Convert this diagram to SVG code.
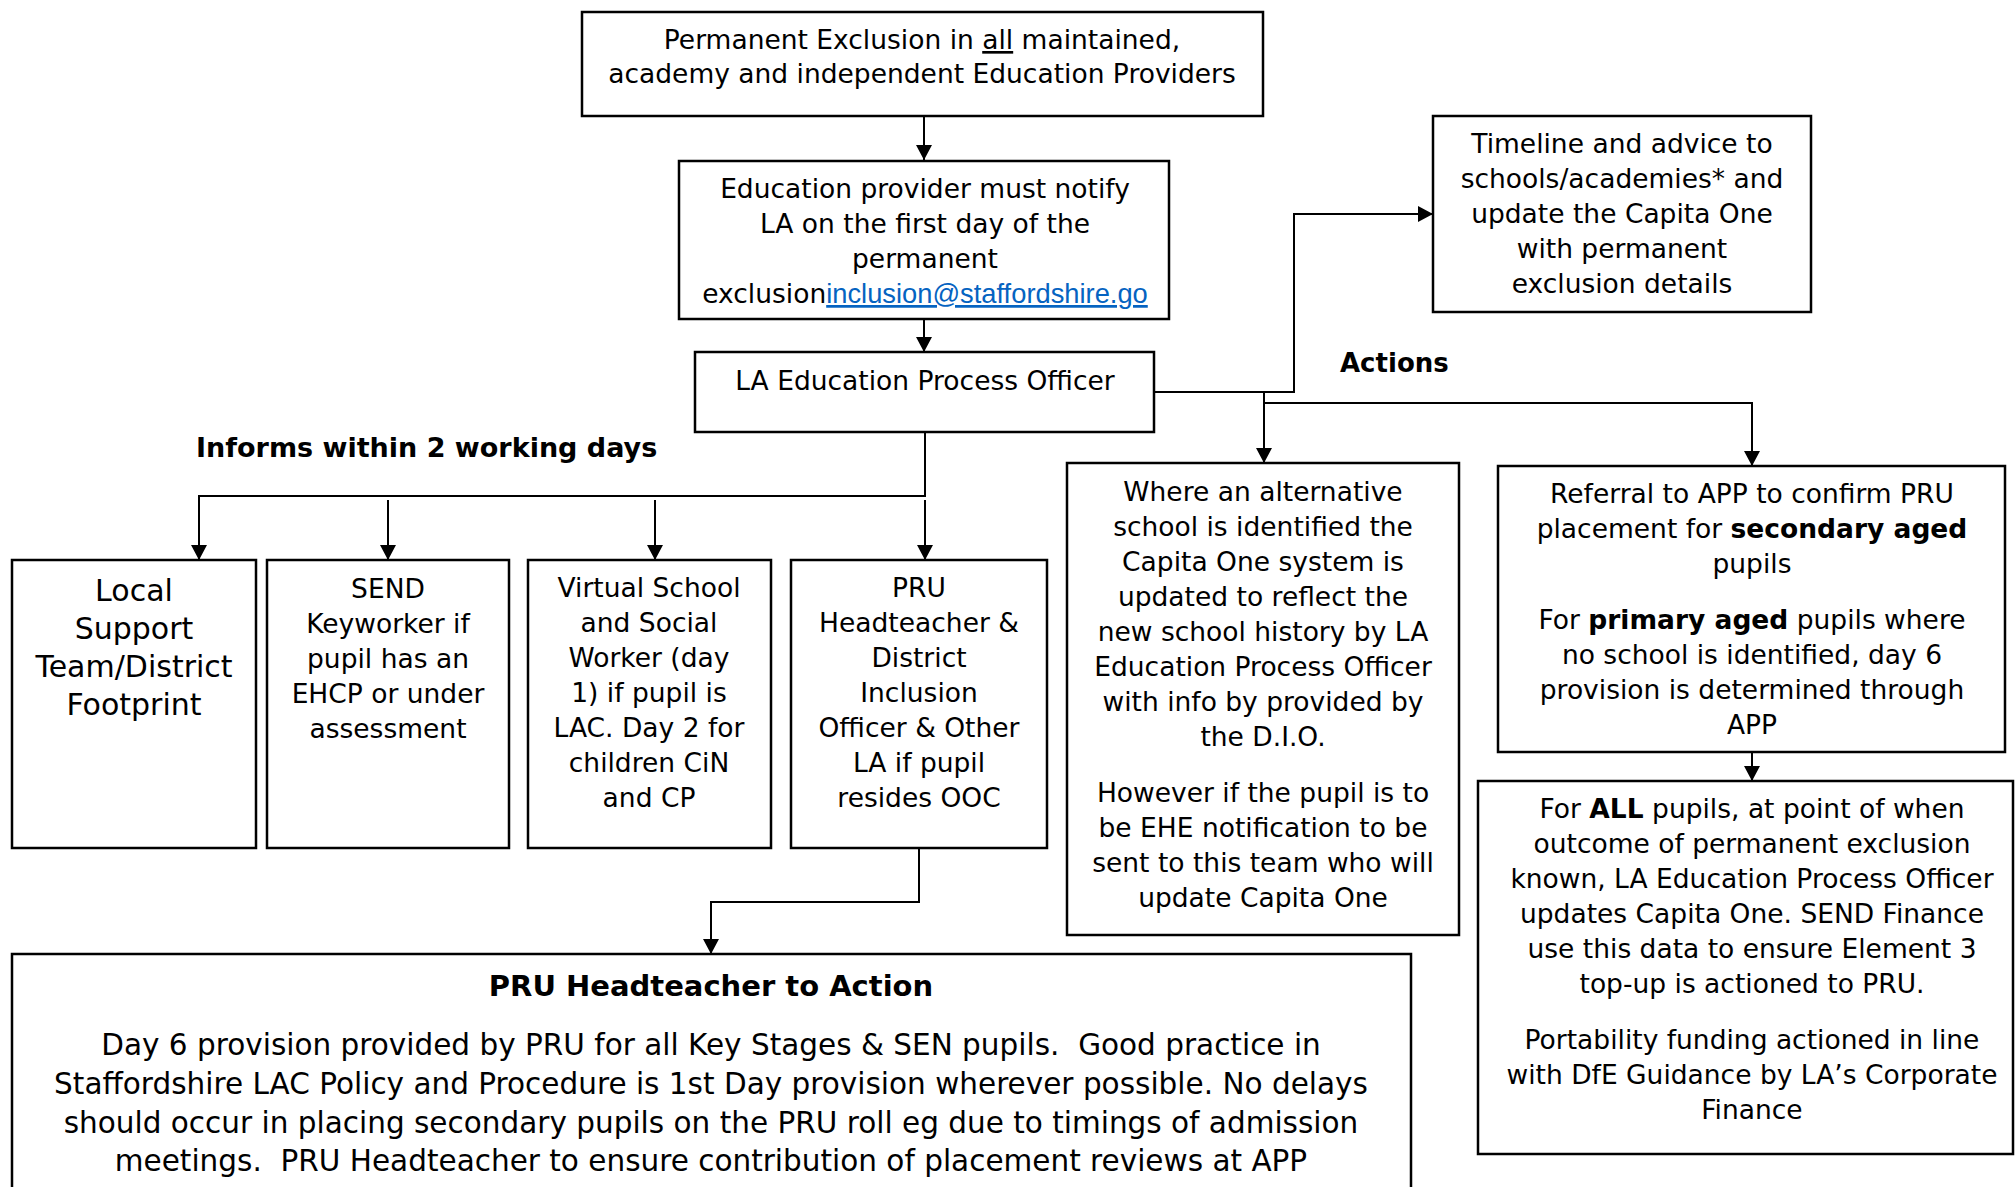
<svg xmlns="http://www.w3.org/2000/svg" width="2015" height="1187" viewBox="0 0 2015 1187">
<style>
.box{fill:#fff;stroke:#000;stroke-width:2.5}
.t{font-family:"DejaVu Sans",Verdana,sans-serif;font-size:26.5px;fill:#000;text-anchor:middle}
.big{font-size:30px}
.body8{font-size:29.5px}
.title8{font-size:29px;font-weight:bold}
.b{font-weight:bold}
.lbl{font-family:"DejaVu Sans",Verdana,sans-serif;font-weight:bold;fill:#000}
.con{fill:none;stroke:#000;stroke-width:2}
.link{font-family:"Liberation Sans",Arial,sans-serif;font-size:27.3px;fill:#0563C1;text-decoration:underline}
</style>
<defs>
<marker id="ah" viewBox="0 0 15 16" refX="15" refY="8" markerWidth="15" markerHeight="16" markerUnits="userSpaceOnUse" orient="auto">
<path d="M0,0 L15,8 L0,16 Z" fill="#000"/>
</marker>
</defs>
<rect width="2015" height="1187" fill="#fff"/>

<g id="connectors">
<path class="con" d="M924,116 V160" marker-end="url(#ah)"/>
<path class="con" d="M924,320 V352" marker-end="url(#ah)"/>
<path class="con" d="M1154,392 H1294 V214 H1433" marker-end="url(#ah)"/>
<path class="con" d="M1264,392 V463" marker-end="url(#ah)"/>
<path class="con" d="M1264,403 H1752 V466" marker-end="url(#ah)"/>
<path class="con" d="M1752,752 V781" marker-end="url(#ah)"/>
<path class="con" d="M925,432 V496 H199 V560" marker-end="url(#ah)"/>
<path class="con" d="M388,500 V560" marker-end="url(#ah)"/>
<path class="con" d="M655,500 V560" marker-end="url(#ah)"/>
<path class="con" d="M925,500 V560" marker-end="url(#ah)"/>
<path class="con" d="M919,848 V902 H711 V954" marker-end="url(#ah)"/>
</g>

<g id="node-exclusion">
<rect class="box" x="582" y="12" width="681" height="104"/>
<text class="t" x="922" y="49">Permanent Exclusion in <tspan text-decoration="underline">all</tspan> maintained,</text>
<text class="t" x="922" y="83">academy and independent Education Providers</text>
</g>

<g id="node-notify">
<rect class="box" x="679" y="161" width="490" height="158"/>
<text class="t" x="925" y="198">Education provider must notify</text>
<text class="t" x="925" y="233">LA on the first day of the</text>
<text class="t" x="925" y="268">permanent</text>
<text class="t" x="925" y="303">exclusion<tspan class="link">inclusion@staffordshire.go</tspan></text>
</g>

<g id="node-officer">
<rect class="box" x="695" y="352" width="459" height="80"/>
<text class="t" x="925" y="390">LA Education Process Officer</text>
</g>

<g id="node-timeline">
<rect class="box" x="1433" y="116" width="378" height="196"/>
<text class="t" x="1622" y="153">Timeline and advice to</text>
<text class="t" x="1622" y="188">schools/academies* and</text>
<text class="t" x="1622" y="223">update the Capita One</text>
<text class="t" x="1622" y="258">with permanent</text>
<text class="t" x="1622" y="293">exclusion details</text>
</g>

<g id="label-actions">
<text class="lbl" x="1340" y="372" font-size="26">Actions</text>
</g>
<g id="label-informs">
<text class="lbl" x="196" y="457" font-size="27">Informs within 2 working days</text>
</g>

<g id="node-local">
<rect class="box" x="12" y="560" width="244" height="288"/>
<text class="t big" x="134" y="601">Local</text>
<text class="t big" x="134" y="639">Support</text>
<text class="t big" x="134" y="677">Team/District</text>
<text class="t big" x="134" y="715">Footprint</text>
</g>

<g id="node-send">
<rect class="box" x="267" y="560" width="242" height="288"/>
<text class="t" x="388" y="598">SEND</text>
<text class="t" x="388" y="633">Keyworker if</text>
<text class="t" x="388" y="668">pupil has an</text>
<text class="t" x="388" y="703">EHCP or under</text>
<text class="t" x="388" y="738">assessment</text>
</g>

<g id="node-virtual">
<rect class="box" x="528" y="560" width="243" height="288"/>
<text class="t" x="649" y="597">Virtual School</text>
<text class="t" x="649" y="632">and Social</text>
<text class="t" x="649" y="667">Worker (day</text>
<text class="t" x="649" y="702">1) if pupil is</text>
<text class="t" x="649" y="737">LAC. Day 2 for</text>
<text class="t" x="649" y="772">children CiN</text>
<text class="t" x="649" y="807">and CP</text>
</g>

<g id="node-pru">
<rect class="box" x="791" y="560" width="256" height="288"/>
<text class="t" x="919" y="597">PRU</text>
<text class="t" x="919" y="632">Headteacher &amp;</text>
<text class="t" x="919" y="667">District</text>
<text class="t" x="919" y="702">Inclusion</text>
<text class="t" x="919" y="737">Officer &amp; Other</text>
<text class="t" x="919" y="772">LA if pupil</text>
<text class="t" x="919" y="807">resides OOC</text>
</g>

<g id="node-alternative">
<rect class="box" x="1067" y="463" width="392" height="472"/>
<text class="t" x="1263" y="501">Where an alternative</text>
<text class="t" x="1263" y="536">school is identified the</text>
<text class="t" x="1263" y="571">Capita One system is</text>
<text class="t" x="1263" y="606">updated to reflect the</text>
<text class="t" x="1263" y="641">new school history by LA</text>
<text class="t" x="1263" y="676">Education Process Officer</text>
<text class="t" x="1263" y="711">with info by provided by</text>
<text class="t" x="1263" y="746">the D.I.O.</text>
<text class="t" x="1263" y="802">However if the pupil is to</text>
<text class="t" x="1263" y="837">be EHE notification to be</text>
<text class="t" x="1263" y="872">sent to this team who will</text>
<text class="t" x="1263" y="907">update Capita One</text>
</g>

<g id="node-referral">
<rect class="box" x="1498" y="466" width="507" height="286"/>
<text class="t" x="1752" y="503">Referral to APP to confirm PRU</text>
<text class="t" x="1752" y="538">placement for <tspan class="b">secondary aged</tspan></text>
<text class="t" x="1752" y="573">pupils</text>
<text class="t" x="1752" y="629">For <tspan class="b">primary aged</tspan> pupils where</text>
<text class="t" x="1752" y="664">no school is identified, day 6</text>
<text class="t" x="1752" y="699">provision is determined through</text>
<text class="t" x="1752" y="734">APP</text>
</g>

<g id="node-finance">
<rect class="box" x="1478" y="781" width="535" height="373"/>
<text class="t" x="1752" y="818">For <tspan class="b">ALL</tspan> pupils, at point of when</text>
<text class="t" x="1752" y="853">outcome of permanent exclusion</text>
<text class="t" x="1752" y="888">known, LA Education Process Officer</text>
<text class="t" x="1752" y="923">updates Capita One. SEND Finance</text>
<text class="t" x="1752" y="958">use this data to ensure Element 3</text>
<text class="t" x="1752" y="993">top-up is actioned to PRU.</text>
<text class="t" x="1752" y="1049">Portability funding actioned in line</text>
<text class="t" x="1752" y="1084">with DfE Guidance by LA’s Corporate</text>
<text class="t" x="1752" y="1119">Finance</text>
</g>

<g id="node-pru-action">
<rect class="box" x="12" y="954" width="1399" height="260"/>
<text class="t title8" x="711" y="996">PRU Headteacher to Action</text>
<text class="t body8" x="711" y="1055" xml:space="preserve">Day 6 provision provided by PRU for all Key Stages &amp; SEN pupils.  Good practice in</text>
<text class="t body8" x="711" y="1094">Staffordshire LAC Policy and Procedure is 1st Day provision wherever possible. No delays</text>
<text class="t body8" x="711" y="1133">should occur in placing secondary pupils on the PRU roll eg due to timings of admission</text>
<text class="t body8" x="711" y="1171" xml:space="preserve">meetings.  PRU Headteacher to ensure contribution of placement reviews at APP</text>
</g>
</svg>
